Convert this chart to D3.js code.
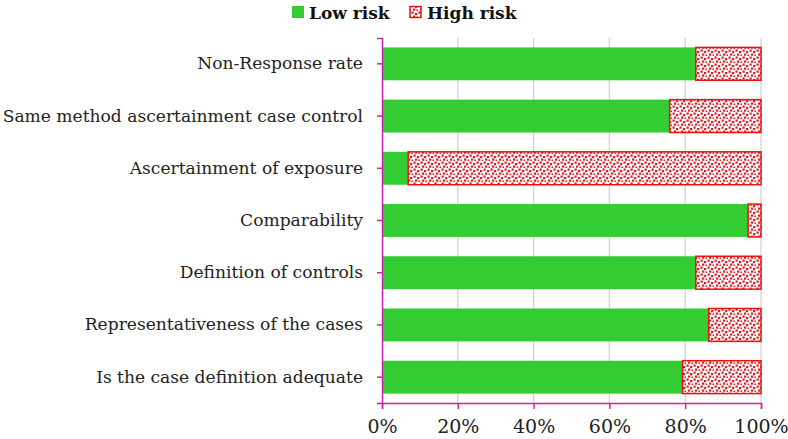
<!DOCTYPE html>
<html lang="en">
<head>
<meta charset="UTF-8">
<title>Risk of bias</title>
<script src="https://d3js.org/d3.v7.min.js"></script>
<style>
    body { margin: 0; background: white; }
    text { font-family: "DejaVu Serif", "Liberation Serif", serif; }
</style>
</head>
<body>
<svg id="chart"></svg>
<script>
    const width = 788, height = 439;

    const categories = [
        "Non-Response rate",
        "Same method ascertainment case control",
        "Ascertainment of exposure",
        "Comparability",
        "Definition of controls",
        "Representativeness of the cases",
        "Is the case definition adequate"
    ];
    // share of studies (n = 29)
    const lowRisk = [82.8, 75.9, 6.9, 96.6, 82.8, 86.2, 79.3];
    const highRisk = [17.2, 24.1, 93.1, 3.4, 17.2, 13.8, 20.7];
    const ticks = [0, 20, 40, 60, 80, 100];

    const margin = { top: 38, right: 27, bottom: 36, left: 382 };

    const svg = d3.select("#chart").attr("width", width).attr("height", height);

    // dotted red pattern for high risk
    const defs = svg.append("defs");
    const pat = defs.append("pattern")
        .attr("id", "dots")
        .attr("patternUnits", "userSpaceOnUse")
        .attr("width", 7).attr("height", 7);
    pat.append("rect").attr("width", 7).attr("height", 7).attr("fill", "white");
    [[0.5, 0.5], [4, 2], [2, 4.5], [5.5, 5.5]].forEach(p => {
        pat.append("rect").attr("x", p[0]).attr("y", p[1])
            .attr("width", 2.2).attr("height", 2.2).attr("fill", "#e01a22");
    });

    const x = d3.scaleLinear().domain([0, 100]).range([margin.left, width - margin.right]);
    const y = d3.scaleBand().domain(categories)
        .range([margin.top, height - margin.bottom]).paddingInner(0.37).paddingOuter(0.18);

    // gridlines
    svg.append("g").selectAll("line").data(ticks.slice(1)).enter().append("line")
        .attr("x1", d => x(d)).attr("x2", d => x(d))
        .attr("y1", margin.top).attr("y2", height - margin.bottom)
        .attr("stroke", "#d4d4d4").attr("stroke-width", 1.3);

    const rows = categories.map((c, i) => ({ cat: c, low: lowRisk[i], high: highRisk[i] }));

    svg.append("g").selectAll("rect").data(rows).enter().append("rect")
        .attr("x", x(0))
        .attr("y", d => y(d.cat))
        .attr("width", d => x(d.low) - x(0))
        .attr("height", y.bandwidth())
        .attr("fill", "#33cc33");

    svg.append("g").selectAll("rect").data(rows).enter().append("rect")
        .attr("x", d => x(d.low))
        .attr("y", d => y(d.cat))
        .attr("width", d => x(d.low + d.high) - x(d.low))
        .attr("height", y.bandwidth())
        .attr("fill", "url(#dots)")
        .attr("stroke", "#ee1111").attr("stroke-width", 1.5);

    // axes
    const axisColor = "#cc22aa";
    const xAxis = svg.append("g")
        .attr("transform", `translate(0,${height - margin.bottom})`)
        .call(d3.axisBottom(x).tickValues(ticks).tickFormat(d => d + "%").tickSizeOuter(0).tickSize(6));
    xAxis.select(".domain").attr("stroke", axisColor).attr("stroke-width", 1.5);
    xAxis.selectAll(".tick line").attr("stroke", axisColor).attr("stroke-width", 1.5);
    xAxis.selectAll(".tick text").attr("font-size", 19).attr("fill", "#222")
        .attr("dy", "1.1em");

    const yAxis = svg.append("g")
        .attr("transform", `translate(${margin.left},0)`)
        .call(d3.axisLeft(y).tickSizeOuter(0).tickSize(5).tickPadding(14));
    yAxis.select(".domain").attr("stroke", axisColor).attr("stroke-width", 1.5);
    yAxis.selectAll(".tick text").attr("font-size", 17.1).attr("fill", "#222");
    yAxis.selectAll(".tick line").attr("stroke", axisColor).attr("stroke-width", 1.5);

    // legend
    const legend = svg.append("g").attr("transform", "translate(292,4)");
    legend.append("rect").attr("x", 0).attr("y", 2).attr("width", 12).attr("height", 12).attr("fill", "#33cc33");
    legend.append("text").attr("x", 17).attr("y", 15).attr("font-size", 17).attr("font-weight", "bold")
        .attr("fill", "#111").text("Low risk");
    legend.append("rect").attr("x", 118).attr("y", 2.5).attr("width", 11).attr("height", 11)
        .attr("fill", "url(#dots)").attr("stroke", "#ee1111").attr("stroke-width", 1.5);
    legend.append("text").attr("x", 135).attr("y", 15).attr("font-size", 17).attr("font-weight", "bold")
        .attr("fill", "#111").text("High risk");
</script>
</body>
</html>
